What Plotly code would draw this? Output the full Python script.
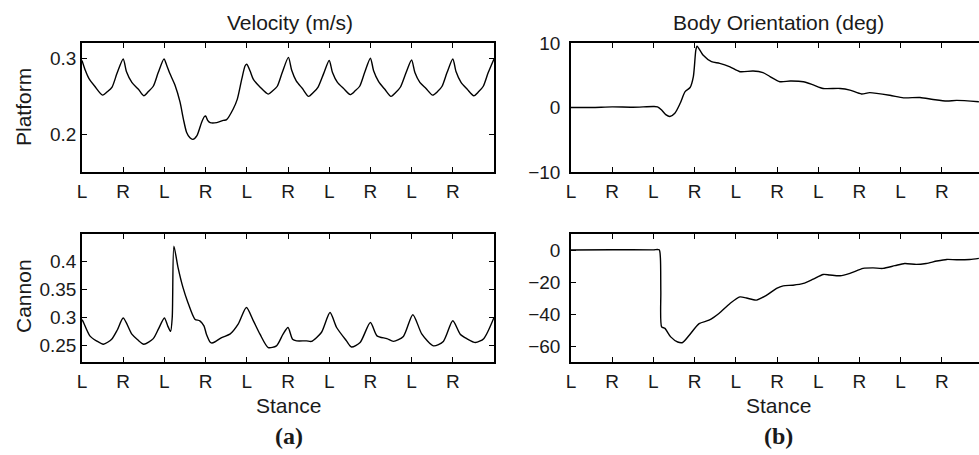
import plotly.graph_objects as go

W, H = 979, 455

# ---- data (x in stance units: 0 = first L, 1 = R, 2 = L, ...) ----
plat_s = [0.00, 0.08, 0.17, 0.31, 0.50, 0.62, 0.73, 0.85, 1.00,
          1.08, 1.21, 1.37, 1.50, 1.61, 1.73, 1.85, 1.99,
          2.06, 2.13, 2.26, 2.38, 2.46, 2.54, 2.62, 2.69, 2.79, 2.90, 2.97, 3.00, 3.05,
          3.11, 3.27, 3.43, 3.51, 3.67, 3.77, 3.88, 3.96, 4.00,
          4.08, 4.16, 4.32, 4.52, 4.63, 4.74, 4.86, 5.01,
          5.09, 5.20, 5.35, 5.50, 5.62, 5.73, 5.86, 6.00,
          6.08, 6.20, 6.35, 6.51, 6.63, 6.74, 6.86, 7.00,
          7.08, 7.20, 7.35, 7.50, 7.62, 7.73, 7.86, 8.00,
          8.08, 8.20, 8.35, 8.51, 8.63, 8.74, 8.86, 9.00,
          9.08, 9.20, 9.35, 9.51, 9.63, 9.74, 9.86, 10.00]
plat_v = [0.297, 0.284, 0.273, 0.263, 0.2513, 0.256, 0.262, 0.280, 0.299,
          0.282, 0.268, 0.259, 0.2505, 0.256, 0.263, 0.281, 0.299,
          0.290, 0.280, 0.264, 0.242, 0.220, 0.202, 0.195, 0.193, 0.198, 0.215, 0.223, 0.224, 0.218,
          0.215, 0.215, 0.218, 0.219, 0.233, 0.246, 0.273, 0.290, 0.292,
          0.283, 0.272, 0.262, 0.2526, 0.257, 0.263, 0.281, 0.301,
          0.284, 0.270, 0.260, 0.2497, 0.255, 0.262, 0.279, 0.297,
          0.281, 0.268, 0.260, 0.252, 0.257, 0.263, 0.281, 0.300,
          0.283, 0.269, 0.259, 0.2497, 0.255, 0.262, 0.280, 0.2975,
          0.281, 0.268, 0.260, 0.2513, 0.256, 0.263, 0.281, 0.299,
          0.282, 0.268, 0.259, 0.2505, 0.256, 0.263, 0.281, 0.299]

cann_s = [0.00, 0.03, 0.19, 0.35, 0.52, 0.72, 0.86, 1.00,
          1.21, 1.35, 1.50, 1.73, 1.86, 2.00,
          2.08, 2.15, 2.19, 2.23, 2.33, 2.45, 2.57, 2.74, 2.86, 2.96, 3.02, 3.12, 3.18,
          3.39, 3.59, 3.79, 3.99,
          4.16, 4.32, 4.52, 4.72, 4.88, 5.00,
          5.11, 5.21, 5.45, 5.57, 5.81, 6.02,
          6.18, 6.42, 6.54, 6.75, 7.00,
          7.16, 7.40, 7.56, 7.80, 8.03,
          8.25, 8.53, 8.77, 9.00,
          9.18, 9.34, 9.55, 9.75, 10.00]
cann_v = [0.296, 0.292, 0.267, 0.258, 0.252, 0.261, 0.278, 0.299,
          0.270, 0.260, 0.252, 0.262, 0.280, 0.299,
          0.285, 0.275, 0.300, 0.428, 0.390, 0.354, 0.327, 0.297, 0.294, 0.285, 0.270, 0.255, 0.2545,
          0.264, 0.270, 0.288, 0.318,
          0.294, 0.270, 0.246, 0.249, 0.270, 0.282,
          0.261, 0.258, 0.258, 0.257, 0.273, 0.309,
          0.282, 0.258, 0.247, 0.255, 0.291,
          0.267, 0.262, 0.257, 0.266, 0.305,
          0.270, 0.249, 0.257, 0.294,
          0.270, 0.262, 0.255, 0.262, 0.300]

bodyp_s = [0.00, 0.50, 1.00, 1.50, 2.00, 2.10, 2.20, 2.30, 2.40, 2.52, 2.65, 2.77, 2.89, 2.97,
           3.03, 3.06, 3.21, 3.41, 3.61, 3.86, 4.10, 4.42, 4.66, 4.83, 5.07, 5.32, 5.64,
           5.88, 6.12, 6.53, 6.77, 7.05, 7.25, 7.74, 8.07, 8.47, 8.79, 9.12, 9.36, 9.90]
bodyp_v = [0.0, 0.0, 0.1, 0.05, 0.15, 0.1, -0.4, -1.1, -1.4, -0.9, 0.65, 2.45, 3.1, 4.8,
           8.9, 9.5, 8.1, 7.1, 6.85, 6.3, 5.55, 5.65, 5.4, 4.8, 4.0, 4.1, 4.0,
           3.5, 2.95, 2.95, 2.7, 2.1, 2.3, 1.9, 1.5, 1.55, 1.25, 1.0, 1.1, 0.9]

bodyc_s = [0.00, 1.00, 2.00, 2.14, 2.17, 2.18, 2.20, 2.28, 2.42, 2.59, 2.71, 2.87,
           3.11, 3.35, 3.59, 3.86, 4.10, 4.26, 4.50, 4.75, 4.99, 5.15, 5.39, 5.64,
           5.88, 6.12, 6.28, 6.53, 6.77, 7.09, 7.33, 7.57, 7.86, 8.10, 8.38, 8.62,
           8.88, 9.12, 9.36, 9.68, 9.90]
bodyc_v = [0.0, 0.2, 0.1, 0.1, -5, -26, -48, -49, -54.3, -57.5, -57.8, -53.3,
           -46, -43.9, -39.7, -33.4, -29.3, -30, -31.3, -28.2, -24, -22.4, -22, -20.9,
           -18.2, -15.3, -15.6, -16.1, -14.6, -11.5, -11.2, -11.5, -9.8, -8.4, -9, -8.4,
           -6.9, -5.9, -6.1, -5.9, -5.2]

stance_vals = list(range(10))
stance_text = ["L", "R"] * 5

# ---- figure ----
TXT = "#1a1a1a"
FONT = "Liberation Sans, Arial, sans-serif"
TICK_SIZE = 19
LABEL_SIZE = 21
line = dict(color="black", width=1.4, shape="spline", smoothing=0.7)

fig = go.Figure()
fig.add_trace(go.Scatter(x=plat_s, y=plat_v, mode="lines", line=line, xaxis="x", yaxis="y"))
fig.add_trace(go.Scatter(x=bodyp_s, y=bodyp_v, mode="lines", line=line, xaxis="x2", yaxis="y2"))
fig.add_trace(go.Scatter(x=cann_s, y=cann_v, mode="lines", line=line, xaxis="x3", yaxis="y3"))
fig.add_trace(go.Scatter(x=bodyc_s, y=bodyc_v, mode="lines", line=line, xaxis="x4", yaxis="y4"))


def px_x(a, b):
    return [a / W, b / W]


def px_y(top, bottom):
    return [1 - bottom / H, 1 - top / H]


def xax(domain, rng, anchor):
    return dict(domain=domain, range=rng, anchor=anchor, tickmode="array",
                tickvals=stance_vals, ticktext=stance_text, ticks="inside", ticklen=5,
                tickwidth=1, tickcolor="black", showline=True, linecolor="black",
                linewidth=1.6, mirror="allticks", showgrid=False, zeroline=False,
                automargin=False, ticklabelstandoff=1,
                tickfont=dict(family=FONT, size=TICK_SIZE, color=TXT), fixedrange=True)


def yax(domain, rng, anchor, vals, texts, mirror, standoff):
    return dict(domain=domain, range=rng, anchor=anchor, tickmode="array",
                tickvals=vals, ticktext=texts, ticks="inside", ticklen=5,
                tickwidth=1, tickcolor="black", showline=True, linecolor="black",
                linewidth=1.6, mirror=mirror, showgrid=False, zeroline=False,
                automargin=False, ticklabelstandoff=standoff,
                tickfont=dict(family=FONT, size=TICK_SIZE, color=TXT), fixedrange=True)


LX = px_x(82, 494)
RX = px_x(571, 979)
TY = px_y(43, 172)
BY = px_y(234, 362)
r_end = (979 - 571) / 41.2

fig.update_layout(
    template="none",
    width=W, height=H, margin=dict(l=0, r=0, t=0, b=0, pad=0, autoexpand=False),
    paper_bgcolor="white", plot_bgcolor="white", showlegend=False,
    xaxis=xax(LX, [0, 10], "y"),
    yaxis=yax(TY, [0.15, 0.32], "x", [0.2, 0.3], ["0.2", "0.3"], "allticks", 0),
    xaxis2=xax(RX, [0, r_end], "y2"),
    yaxis2=yax(TY, [-10, 10], "x2", [-10, 0, 10], ["\u221210", "0", "10"], False, 5),
    xaxis3=xax(LX, [0, 10], "y3"),
    yaxis3=yax(BY, [0.22, 0.45], "x3", [0.25, 0.3, 0.35, 0.4],
               ["0.25", "0.3", "0.35", "0.4"], "allticks", 0),
    xaxis4=xax(RX, [0, r_end], "y4"),
    yaxis4=yax(BY, [-70, 10], "x4", [-60, -40, -20, 0],
               ["\u221260", "\u221240", "\u221220", "0"], False, 5),
)


def label(text, x, y, size=LABEL_SIZE, angle=0, family=FONT, bold=False):
    if bold:
        text = "<b>" + text + "</b>"
    fig.add_annotation(text=text, x=x / W, y=1 - y / H, xref="paper", yref="paper",
                       xanchor="center", yanchor="middle", showarrow=False,
                       textangle=angle, font=dict(family=family, size=size, color=TXT))


label("Velocity (m/s)", 290, 22)
label("Body Orientation (deg)", 778, 22)
label("Platform", 23, 107, angle=-90)
label("Cannon", 23, 296, angle=-90)
label("Stance", 288, 405)
label("Stance", 778, 405)
label("(a)", 289, 436, size=24, family="Liberation Serif, Times New Roman, serif", bold=True)
label("(b)", 778, 436, size=24, family="Liberation Serif, Times New Roman, serif", bold=True)

fig.write_html("out.html")
